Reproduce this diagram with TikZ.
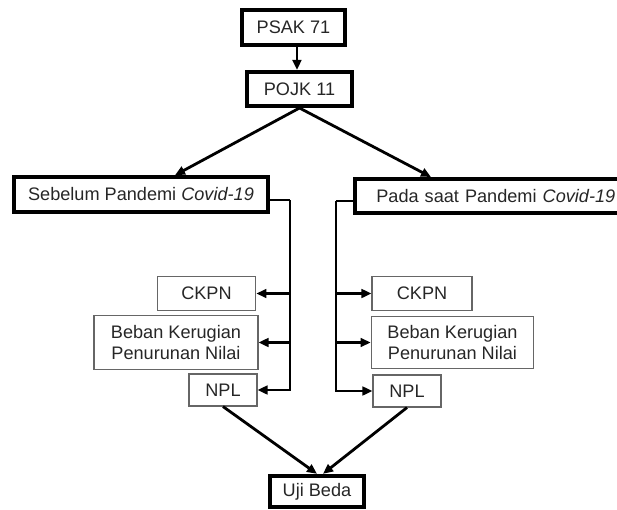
\documentclass[tikz,border=0pt]{standalone}
\usepackage{fontspec}
\setmainfont{Liberation Sans}
\usetikzlibrary{arrows.meta}
\tikzset{
  mainblock/.style={draw, rectangle, line width=3pt, inner sep=0pt, text=black!85, font=\fontsize{13.6}{15.8}\selectfont},
  subblock/.style={draw=black!60, rectangle, line width=0.8pt, inner sep=0pt, align=center, text=black!85, font=\fontsize{13.6}{15.8}\selectfont},
  flowwire/.style={line width=2.1pt, -{Triangle[length=7.5pt,width=6.5pt]}},
  flowbus/.style={line width=2.1pt}
}
\begin{document}
\begin{tikzpicture}[x=0.75pt,y=-0.75pt]
    \useasboundingbox (0,0) rectangle (617,510);
    \node[mainblock, minimum width=77pt, minimum height=26pt] (psak) at (293.5,27.5) {PSAK 71};
    \node[mainblock, minimum width=79pt, minimum height=25.5pt] (pojk) at (299.5,89) {POJK 11};
    \node[mainblock, minimum width=190.5pt, minimum height=26pt] (sebelum) at (141,194.5) {Sebelum Pandemi \textit{Covid-19}};
    \node[mainblock, minimum width=204pt, minimum height=25.5pt, text width=200pt, align=left] (pada) at (491,196) {\hspace*{14pt}Pada saat Pandemi \textit{Covid-19}};
    \node[subblock, minimum width=74pt, minimum height=25pt] (ckpnL) at (206.5,293.5) {CKPN};
    \node[subblock, minimum width=123pt, minimum height=40pt] (bebanL) at (176,342.5) {Beban Kerugian\\Penurunan Nilai};
    \node[subblock, minimum width=51pt, minimum height=24pt] (nplL) at (223,390) {NPL};
    \node[subblock, minimum width=75pt, minimum height=25pt] (ckpnR) at (422,293.5) {CKPN};
    \node[subblock, minimum width=122pt, minimum height=38.5pt] (bebanR) at (452.5,342.5) {Beban Kerugian\\Penurunan Nilai};
    \node[subblock, minimum width=51pt, minimum height=24pt] (nplR) at (407,391) {NPL};
    \node[mainblock, minimum width=70.5pt, minimum height=23.5pt] (uji) at (317,491.5) {Uji Beda};
    \coordinate (busL) at (290,200);
    \coordinate (busR) at (336,201);
    \draw[flowwire] ([xshift=2.6pt]psak.south) -- ([xshift=2.6pt]psak.south |- pojk.north);
    \draw[flowwire] (pojk.south) -- ([xshift=25.5pt]sebelum.north);
    \draw[flowwire] (pojk.south) -- ([xshift=-45pt]pada.north);
    \draw[flowbus] (sebelum.east |- busL) -- (busL);
    \draw[flowwire] (busL) |- (nplL.east);
    \draw[flowwire] (busL |- ckpnL) -- (ckpnL.east);
    \draw[flowwire] (busL |- bebanL) -- (bebanL.east);
    \draw[flowbus] (pada.west |- busR) -- (busR);
    \draw[flowwire] (busR) |- (nplR.west);
    \draw[flowwire] (busR |- ckpnR) -- (ckpnR.west);
    \draw[flowwire] (busR |- bebanR) -- (bebanR.west);
    \draw[flowwire] (nplL.south) -- (uji.north);
    \draw[flowwire] (nplR.south) -- ([xshift=4.5pt]uji.north);
\end{tikzpicture}
\end{document}
